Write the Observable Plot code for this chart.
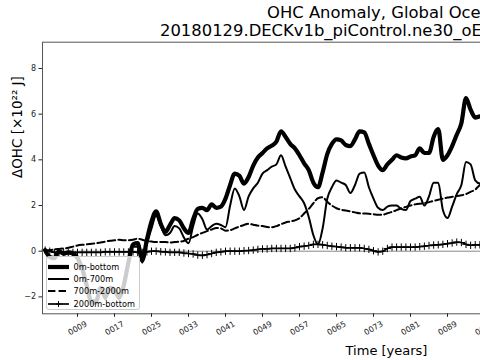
<!DOCTYPE html>
<html><head><meta charset="utf-8">
<script src="https://cdn.jsdelivr.net/npm/d3@7"></script>
<script src="https://cdn.jsdelivr.net/npm/@observablehq/plot@0.6"></script>
<style>
html,body{margin:0;padding:0;background:#fff;}
#wrap{position:relative;width:480px;height:360px;overflow:hidden;font-family:"DejaVu Sans",sans-serif;background:#fff;}
#title{position:relative;height:38px;white-space:nowrap;}
#title span{position:absolute;font-size:16.4px;line-height:16px;color:#000;white-space:nowrap;}
#chart{position:absolute;left:0;top:38px;width:750px;height:322px;}
#chart svg{max-width:none !important;display:block;background:transparent;}
#legend{position:absolute;left:45.5px;top:256px;width:94px;height:54px;background:rgba(255,255,255,0.8);border:1px solid #ccc;border-radius:3px;box-sizing:border-box;}
#legend .row{position:absolute;left:0;height:12px;white-space:nowrap;}
#legend svg{position:absolute;left:0.5px;top:0;}
#legend .lab{position:absolute;left:27px;top:0;font-size:8.2px;line-height:12px;color:#000;}
</style>
</head><body>
<div id="wrap">
  <div id="title">
    <span style="left:267px;top:4.6px;">OHC Anomaly, Global Ocean</span>
    <span style="left:160px;top:22.8px;">20180129.DECKv1b_piControl.ne30_oEC.edison</span>
  </div>
  <div id="chart"></div>
  <div id="legend"></div>
</div>
<script>
const seriesNames = ["0m-bottom", "0m-700m", "700m-2000m", "2000m-bottom"];
const years = [2,3,4,5,6,7,8,9,10,11,12,13,14,15,16,17,18,19,20,21,22,23,24,25,26,27,28,29,30,31,32,33,34,35,36,37,38,39,40,41,42,43,44,45,46,47,48,49,50,51,52,53,54,55,56,57,58,59,60,61,62,63,64,65,66,67,68,69,70,71,72,73,74,75,76,77,78,79,80,81,82,83,84,85,86,87,88,89,90,91,92,93,94,95,96,97];
const ohc0mBottom = [0.05,-0.25,-0.3,0.0,-0.1,-0.05,-0.1,-0.3,-0.75,-1.5,-2.2,-2.2,-1.6,-2.0,-1.6,-1.7,-2.0,-1.5,-0.5,0.3,0.35,-0.4,0.5,1.3,1.75,1.2,0.85,1.15,1.45,1.35,1.0,0.8,1.4,1.85,1.9,1.8,2.05,1.9,1.95,2.3,2.9,3.4,3.3,2.96,3.25,3.75,4.1,4.3,4.5,4.62,4.8,5.25,5.0,4.7,4.5,4.2,3.85,3.55,3.0,2.8,3.45,4.25,4.7,4.9,4.85,4.65,4.6,4.9,5.25,5.2,4.7,4.2,3.75,3.55,3.8,4.0,4.2,4.1,4.06,4.15,4.2,4.5,4.3,4.3,5.0,5.35,4.0,4.2,4.6,5.1,5.6,6.7,6.2,5.85,5.9,5.9];
const ohc0m700m = [0.0,-0.3,-0.35,-0.05,-0.15,-0.1,-0.15,-0.35,-0.85,-1.6,-2.3,-2.3,-1.7,-2.1,-1.7,-1.8,-2.1,-1.6,-0.6,0.2,0.2,-0.5,0.3,1.0,1.55,1.1,0.7,0.8,1.1,1.0,0.6,0.35,1.1,1.65,1.4,0.95,1.1,1.2,1.15,1.05,2.0,2.75,2.4,1.8,2.4,2.75,3.0,3.4,3.55,3.7,3.8,4.2,3.7,3.2,2.7,2.4,2.1,1.5,0.7,0.3,1.0,2.3,2.8,3.1,3.0,2.9,2.55,2.9,3.4,3.45,2.8,2.3,1.9,1.8,1.95,2.0,2.0,1.85,1.8,2.2,2.3,2.38,2.0,2.4,3.0,3.0,1.8,1.45,1.95,2.5,2.9,3.9,3.8,3.1,2.96,2.95];
const ohc700m2000m = [0.0,0.05,0.08,0.1,0.12,0.15,0.2,0.25,0.28,0.3,0.33,0.35,0.38,0.42,0.46,0.48,0.5,0.48,0.48,0.5,0.55,0.5,0.45,0.42,0.4,0.4,0.4,0.38,0.4,0.42,0.45,0.55,0.62,0.72,0.8,0.88,0.95,1.02,1.0,0.9,0.92,1.0,1.08,1.15,1.2,1.16,1.12,1.1,1.06,1.05,1.1,1.18,1.26,1.3,1.35,1.45,1.65,1.85,2.1,2.32,2.36,2.16,2.0,1.88,1.82,1.78,1.74,1.7,1.66,1.65,1.64,1.62,1.6,1.6,1.66,1.72,1.8,1.88,1.94,2.0,2.05,2.08,2.1,2.15,2.2,2.25,2.3,2.35,2.38,2.42,2.45,2.5,2.6,2.7,2.9,3.0];
const ohc2000mBottom = [0.05,0.0,-0.05,-0.05,-0.05,-0.05,-0.05,-0.05,-0.05,-0.05,-0.05,-0.05,-0.05,-0.03,-0.03,-0.03,-0.03,-0.03,-0.03,-0.03,-0.05,-0.05,-0.03,0.0,0.0,-0.02,-0.03,-0.05,-0.05,-0.05,-0.08,-0.1,-0.12,-0.17,-0.18,-0.15,-0.1,-0.05,-0.03,0.0,0.0,0.0,0.0,0.02,0.03,0.05,0.08,0.1,0.1,0.12,0.12,0.12,0.12,0.12,0.15,0.2,0.22,0.25,0.3,0.3,0.28,0.25,0.22,0.2,0.18,0.15,0.15,0.15,0.15,0.12,0.08,0.02,-0.03,0.0,0.12,0.18,0.18,0.18,0.18,0.18,0.18,0.2,0.22,0.25,0.27,0.28,0.3,0.33,0.36,0.4,0.38,0.3,0.26,0.28,0.28,0.28];
const xTicks = [9,17,25,33,41,49,57,65,73,81,89,97,105,113,121,129,137,145];
const yTicks = [-2,0,2,4,6,8];
const xLabel = "Time [years]";
const yLabel = "ΔOHC [×10²² J]";

const toRows = vals => years.map((t, i) => ({t, v: vals[i]}));
const d0 = toRows(ohc0mBottom), d1 = toRows(ohc0m700m), d2 = toRows(ohc700m2000m), d3 = toRows(ohc2000mBottom);

const styles = [
  {strokeWidth: 4.2},
  {strokeWidth: 2},
  {strokeWidth: 2, strokeDasharray: "7.4,3.2"},
  {strokeWidth: 1.7}
];

const chart = Plot.plot({
  width: 750, height: 322,
  marginLeft: 42, marginRight: 20, marginTop: 3.7, marginBottom: 46.7,
  style: {fontFamily: "DejaVu Sans", fontSize: "8px", color: "#222", background: "none", maxWidth: "none"},
  x: {domain: [1.43, 150.19]},
  y: {domain: [-2.74, 9.15]},
  marks: [
    Plot.ruleY([0], {stroke: "#888", strokeWidth: 1}),
    Plot.line(d0, {x: "t", y: "v", stroke: "black", curve: "monotone-x", strokeLinejoin: "round", ...styles[0]}),
    Plot.line(d1, {x: "t", y: "v", stroke: "black", curve: "monotone-x", ...styles[1]}),
    Plot.line(d2, {x: "t", y: "v", stroke: "black", curve: "monotone-x", ...styles[2]}),
    Plot.line(d3, {x: "t", y: "v", stroke: "black", curve: "monotone-x", ...styles[3]}),
    Plot.dot(d3, {x: "t", y: "v", symbol: "plus", r: 2.5, stroke: "black", strokeWidth: 1}),
    Plot.frame({stroke: "#555", strokeWidth: 1}),
    Plot.axisY({ticks: yTicks, tickSize: 3.5, tickPadding: 3, label: null,
      tickFormat: d => d < 0 ? "\u2212" + Math.abs(d) : String(d)}),
    Plot.axisX({ticks: xTicks, tickSize: 3.5, tickPadding: 11, tickRotate: -30, textAnchor: "middle", label: null,
      tickFormat: d => String(d).padStart(4, "0")}),
    Plot.text([xLabel], {text: d => d, frameAnchor: "bottom", dy: 41, lineAnchor: "bottom", fontSize: 13, fill: "#000"}),
    Plot.text([yLabel], {text: d => d, frameAnchor: "left", dx: -25, rotate: -90, fontSize: 13.5, fill: "#000"})
  ]
});
chart.style.maxWidth = "none";
chart.style.background = "none";
document.getElementById("chart").appendChild(chart);

// legend
const legend = document.getElementById("legend");
const rowTops = [3.7, 15.7, 28, 40.7];
seriesNames.forEach((name, i) => {
  const row = document.createElement("div");
  row.className = "row";
  row.style.top = rowTops[i] + "px";
  const s = styles[i];
  let svg = `<svg width="26" height="12"><line x1="1" y1="6" x2="22" y2="6" stroke="black" stroke-width="${s.strokeWidth}"${s.strokeDasharray ? ` stroke-dasharray="${s.strokeDasharray}"` : ""}/>`;
  if (i === 3) svg += `<line x1="11.5" y1="3" x2="11.5" y2="9" stroke="black" stroke-width="1"/><line x1="8.5" y1="6" x2="14.5" y2="6" stroke="black" stroke-width="1"/>`;
  svg += `</svg>`;
  row.innerHTML = svg + `<span class="lab">${name}</span>`;
  legend.appendChild(row);
});
</script>
</body></html>
